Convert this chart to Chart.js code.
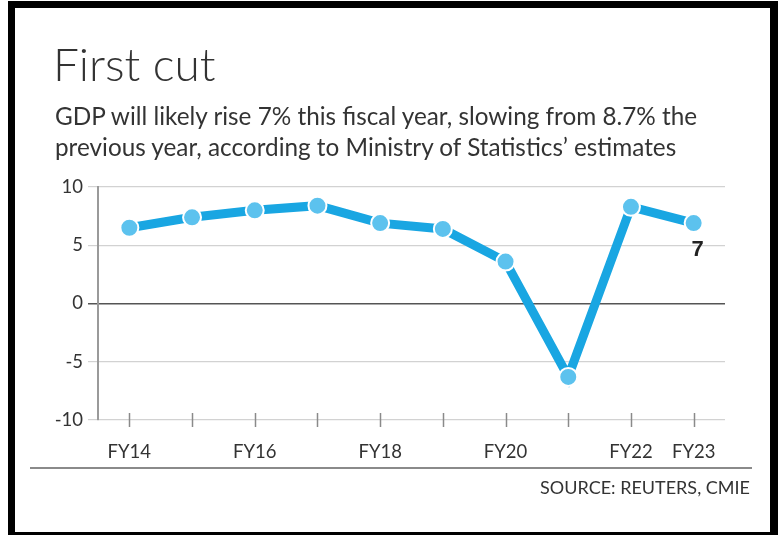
<!DOCTYPE html>
<html>
<head>
<meta charset="utf-8">
<script src="https://cdn.jsdelivr.net/npm/chart.js@4"></script>
<style>
  html, body { margin: 0; padding: 0; background: #fff; }
  body { width: 778px; height: 535px; position: relative; overflow: hidden; font-family: Lato, "Open Sans", sans-serif; color: #333; }
  #frame { position: absolute; left: 8px; top: 1px; width: 770px; height: 538px; box-sizing: border-box; border: 7px solid #000; border-right-width: 8px; z-index: 5; pointer-events: none; }
  #wrap { position: absolute; left: 0; top: 0; width: 778px; height: 535px; }
  .t { position: absolute; white-space: nowrap; line-height: 1; }
  #title { left: 53px; top: 41px; font-size: 46px; font-weight: 300; color: #333; }
  #sub1 { left: 55px; top: 104px; font-size: 24.3px; color: #333; }
  #sub2 { left: 55px; top: 135px; font-size: 24.3px; color: #333; }
  #rule { position: absolute; left: 30px; top: 467px; width: 722px; height: 2px; background: #8a8a8a; }
  #source { right: 28px; top: 478px; font-size: 18px; color: #333; }
</style>
</head>
<body>
<div id="wrap"><canvas id="c" width="778" height="535"></canvas></div>
<div class="t" id="title">First cut</div>
<div class="t" id="sub1">GDP will likely rise 7% this fiscal year, slowing from 8.7% the</div>
<div class="t" id="sub2">previous year, according to Ministry of Statistics’ estimates</div>
<div id="rule"></div>
<div class="t" id="source">SOURCE: REUTERS, CMIE</div>
<div id="frame"></div>
<script>
// ---- data ----
const categories = ['FY14','FY15','FY16','FY17','FY18','FY19','FY20','FY21','FY22','FY23'];
const tickLabels = ['FY14','','FY16','','FY18','','FY20','','FY22','FY23'];
const gdpGrowth = [6.5, 7.4, 8.0, 8.4, 6.9, 6.4, 3.6, -6.3, 8.3, 6.9];
const pointLabels = ['','','','','','','','','','7'];
const yTicks = [-10, -5, 0, 5, 10];

const FONT = 'Lato, "Open Sans", sans-serif';

const xTickMarks = {
  id: 'xTickMarks',
  afterDraw(chart) {
    const x = chart.scales.x, area = chart.chartArea, ctx = chart.ctx;
    ctx.save();
    ctx.strokeStyle = '#8a8a8a';
    ctx.lineWidth = 1.5;
    for (let i = 0; i < categories.length; i++) {
      const px = Math.round(x.getPixelForTick(i)) + 0.5;
      ctx.beginPath();
      ctx.moveTo(px, area.bottom - 7);
      ctx.lineTo(px, area.bottom + 7);
      ctx.stroke();
    }
    ctx.restore();
  }
};

const valueLabels = {
  id: 'valueLabels',
  afterDatasetsDraw(chart) {
    const meta = chart.getDatasetMeta(0), ctx = chart.ctx;
    ctx.save();
    ctx.font = 'bold 22px "Liberation Sans", Arial, sans-serif';
    ctx.fillStyle = '#222';
    ctx.textAlign = 'center';
    ctx.textBaseline = 'middle';
    meta.data.forEach((pt, i) => {
      if (pointLabels[i]) ctx.fillText(pointLabels[i], pt.x + 4, pt.y + 27);
    });
    ctx.restore();
  }
};

new Chart(document.getElementById('c'), {
  type: 'line',
  data: {
    labels: categories,
    datasets: [{
      data: gdpGrowth,
      borderColor: '#19a6e2',
      borderWidth: 9,
      pointRadius: 9,
      pointHoverRadius: 9,
      pointBackgroundColor: '#5cc2ee',
      pointBorderColor: '#ffffff',
      pointBorderWidth: 2,
      tension: 0,
      clip: false
    }]
  },
  options: {
    responsive: false,
    animation: false,
    events: [],
    layout: { padding: { top: 187, left: 0, right: 53, bottom: 75 } },
    plugins: { legend: { display: false }, tooltip: { enabled: false } },
    scales: {
      x: {
        offset: true,
        grid: { display: false },
        border: { display: false },
        ticks: {
          autoSkip: false,
          maxRotation: 0,
          padding: 13,
          color: '#333',
          font: { family: FONT, size: 18.5 },
          callback: (v, i) => tickLabels[i]
        },
        afterFit(s) { s.height = 40; }
      },
      y: {
        min: -10,
        max: 10,
        afterBuildTicks(s) { s.ticks = yTicks.map(v => ({ value: v })); },
        grid: {
          color: c => (c.tick && c.tick.value === 0) ? '#555' : '#d2d2d2',
          lineWidth: c => (c.tick && c.tick.value === 0) ? 1.5 : 1.2,
          tickLength: 10,
          drawTicks: true
        },
        border: { display: true, color: '#9a9a9a', width: 2 },
        ticks: {
          padding: 5,
          color: '#333',
          font: { family: FONT, size: 18.5 }
        },
        afterFit(s) { s.width = 98; }
      }
    }
  },
  plugins: [xTickMarks, valueLabels]
});
</script>
</body>
</html>
